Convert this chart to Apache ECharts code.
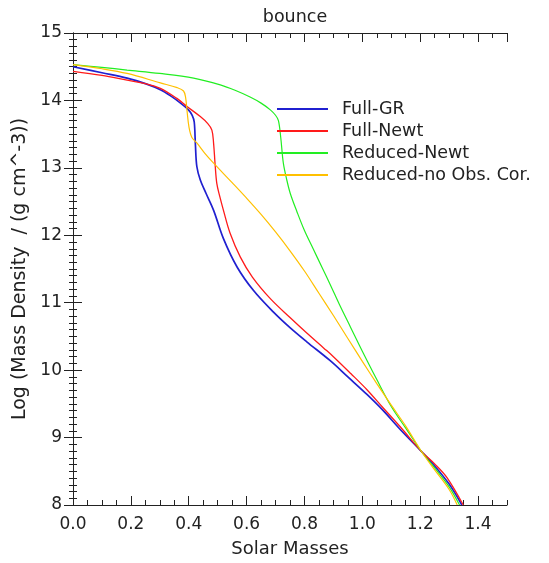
<!DOCTYPE html>
<html>
<head>
<meta charset="utf-8">
<script src="https://cdn.jsdelivr.net/npm/echarts@6/dist/echarts.min.js"></script>
<style>html,body{margin:0;padding:0;background:#fff;}#c{width:549px;height:563px;}</style>
</head>
<body>
<div id="c"></div>
<script>
const titleText = 'bounce';
const xName = 'Solar Masses';
const yName = 'Log (Mass Density  / (g cm^-3))';
const seriesNames = ['Full-GR', 'Full-Newt', 'Reduced-Newt', 'Reduced-no Obs. Cor.'];

const xFullGR = [0, 0.1, 0.187, 0.25, 0.302, 0.34, 0.375, 0.399, 0.412, 0.419, 0.423, 0.428, 0.44, 0.46, 0.486, 0.52, 0.567, 0.624, 0.693, 0.75, 0.808, 0.889, 0.95, 1.016, 1.07, 1.131, 1.205, 1.25, 1.30, 1.344];
const yFullGR = [14.50, 14.41, 14.33, 14.25, 14.16, 14.06, 13.95, 13.86, 13.78, 13.68, 13.35, 13.02, 12.82, 12.62, 12.37, 11.95, 11.53, 11.18, 10.86, 10.63, 10.42, 10.14, 9.90, 9.64, 9.41, 9.12, 8.79, 8.58, 8.31, 8.0];

const xFullNewt = [0, 0.1, 0.187, 0.25, 0.302, 0.359, 0.394, 0.44, 0.465, 0.48, 0.486, 0.491, 0.497, 0.507, 0.52, 0.543, 0.578, 0.62, 0.682, 0.75, 0.808, 0.866, 0.90, 0.96, 1.016, 1.07, 1.131, 1.205, 1.25, 1.292, 1.349];
const yFullNewt = [14.43, 14.37, 14.30, 14.25, 14.18, 14.03, 13.91, 13.76, 13.66, 13.56, 13.36, 13.06, 12.77, 12.58, 12.37, 12.03, 11.68, 11.38, 11.06, 10.78, 10.55, 10.33, 10.20, 9.95, 9.71, 9.45, 9.16, 8.79, 8.61, 8.41, 8.0];

const xRedNewt = [0, 0.1, 0.187, 0.3, 0.417, 0.509, 0.56, 0.612, 0.65, 0.682, 0.700, 0.710, 0.718, 0.727, 0.739, 0.751, 0.774, 0.80, 0.83, 0.86, 0.89, 0.92, 0.96, 1.0, 1.05, 1.1, 1.15, 1.205, 1.25, 1.30, 1.336];
const yRedNewt = [14.53, 14.49, 14.45, 14.40, 14.33, 14.23, 14.15, 14.05, 13.96, 13.86, 13.78, 13.70, 13.45, 13.07, 12.82, 12.62, 12.35, 12.07, 11.80, 11.53, 11.26, 10.98, 10.63, 10.28, 9.86, 9.46, 9.14, 8.79, 8.55, 8.27, 8.0];

const xRedNoObs = [0, 0.1, 0.187, 0.302, 0.36, 0.382, 0.389, 0.394, 0.401, 0.411, 0.428, 0.455, 0.486, 0.55, 0.60, 0.65, 0.70, 0.75, 0.80, 0.85, 0.90, 0.95, 1.0, 1.05, 1.10, 1.15, 1.205, 1.25, 1.30, 1.328];
const yRedNoObs = [14.53, 14.47, 14.40, 14.26, 14.19, 14.14, 14.05, 13.85, 13.60, 13.45, 13.37, 13.22, 13.07, 12.78, 12.55, 12.31, 12.05, 11.77, 11.47, 11.14, 10.81, 10.47, 10.13, 9.80, 9.48, 9.17, 8.79, 8.52, 8.23, 8.0];

const xTickLabels = ['0.0', '0.2', '0.4', '0.6', '0.8', '1.0', '1.2', '1.4'];

const colors = ['#2020d0', '#ff1a1a', '#22ee22', '#ffc000'];
const widths = [1.7, 1.3, 1.2, 1.2];
const xs = [xFullGR, xFullNewt, xRedNewt, xRedNoObs];
const ys = [yFullGR, yFullNewt, yRedNewt, yRedNoObs];

const FONT = 'DejaVu Sans';
const TXT = '#222';

const chart = echarts.init(document.getElementById('c'), null, {renderer: 'canvas'});

function xAx(pos, interval, len, labels, line) {
  return {
    type: 'value', position: pos, min: 0, max: 1.5, interval: interval,
    axisLine: {show: line, lineStyle: {color: '#222', width: 1}},
    axisTick: {show: true, inside: true, length: len, lineStyle: {color: '#222', width: 1}},
    axisLabel: labels ? {
      show: true, showMaxLabel: false, margin: 11, color: TXT, fontFamily: FONT, fontSize: 17,
      formatter: v => { const i = Math.round(v / 0.2); return Math.abs(v - i * 0.2) < 1e-6 ? (xTickLabels[i] || '') : ''; }
    } : {show: false},
    splitLine: {show: false},
    name: labels ? xName : '', nameLocation: 'middle', nameGap: 35,
    nameTextStyle: {color: TXT, fontFamily: FONT, fontSize: 18}
  };
}
function yAx(pos, labels) {
  return {
    type: 'value', position: pos, min: 8, max: 15, interval: 1,
    axisLine: {show: true, lineStyle: {color: '#222', width: 1}},
    axisTick: {show: true, inside: true, length: 9, lineStyle: {color: '#222', width: 1}},
    minorTick: {show: true, splitNumber: 10, length: 4, lineStyle: {color: '#222', width: 1}},
    axisLabel: labels ? {show: true, margin: 11, color: TXT, fontFamily: FONT, fontSize: 17} : {show: false},
    splitLine: {show: false}, minorSplitLine: {show: false},
    name: labels ? yName : '', nameLocation: 'middle', nameGap: 41, nameRotate: 90,
    nameTextStyle: {color: TXT, fontFamily: FONT, fontSize: 19}
  };
}

const option = {
  animation: false,
  backgroundColor: '#fff',
  title: {
    text: titleText, left: 290, top: 3, textAlign: 'center',
    textStyle: {color: TXT, fontFamily: FONT, fontSize: 17.5, fontWeight: 'normal'}
  },
  grid: {left: 73, right: 42, top: 33, bottom: 58, containLabel: false},
  legend: {
    orient: 'vertical', left: 272, top: 95, itemWidth: 51, itemHeight: 2, itemGap: 4,
    icon: 'rect',
    textStyle: {color: TXT, fontFamily: FONT, fontSize: 17.5, lineHeight: 17, padding: [0, 0, 0, 9]},
    data: seriesNames
  },
  xAxis: [
    xAx('bottom', 0.2, 9, true, true),
    xAx('bottom', 0.05, 5, false, false),
    xAx('top', 0.2, 9, false, true),
    xAx('top', 0.05, 5, false, false)
  ],
  yAxis: [yAx('left', true), yAx('right', false)],
  series: seriesNames.map((n, k) => ({
    name: n, type: 'line', xAxisIndex: 0, yAxisIndex: 0,
    data: xs[k].map((x, i) => [x, ys[k][i]]),
    showSymbol: false, symbol: 'none', smooth: 0.35, clip: true,
    lineStyle: {color: colors[k], width: widths[k]},
    itemStyle: {color: colors[k]}
  }))
};
chart.setOption(option);
</script>
</body>
</html>
